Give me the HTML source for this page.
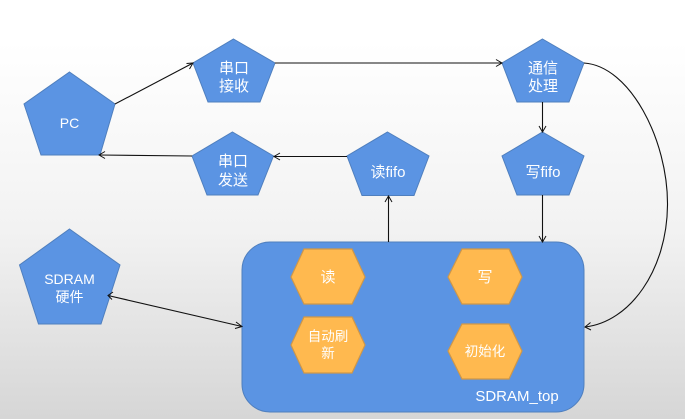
<!DOCTYPE html>
<html>
<head>
<meta charset="utf-8">
<style>
html,body{margin:0;padding:0;width:685px;height:419px;overflow:hidden;background:#fff}
svg{display:block}
text{font-family:"Liberation Sans","Noto Sans CJK SC",sans-serif;font-size:15px;fill:#fff;text-anchor:middle}
.s{font-size:13.5px}
.m{font-size:14px}
.p{fill:#5b94e3;stroke:#4f7fbe;stroke-width:1}
.h{fill:#ffb94f;stroke:#cf9748;stroke-width:1.2}
.l{fill:none;stroke:#111;stroke-width:1.1}
.a{fill:none;stroke:#111;stroke-width:1}
</style>
</head>
<body>
<svg width="685" height="419" viewBox="0 0 685 419" xmlns="http://www.w3.org/2000/svg">
<defs>
<linearGradient id="bg" x1="0" y1="0" x2="0" y2="1">
<stop offset="0" stop-color="#ffffff"/>
<stop offset="0.1" stop-color="#ffffff"/>
<stop offset="0.55" stop-color="#f2f2f2"/>
<stop offset="1" stop-color="#d6d6d6"/>
</linearGradient>
</defs>
<rect width="685" height="419" fill="url(#bg)"/>

<rect class="p" x="242" y="242" width="342" height="170" rx="28" ry="28"/>

<polygon class="p" points="69.5,72 115,104 100,155 41,155 24,104"/>
<polygon class="p" points="233.5,39 275,63 260,102 208,102 193,63"/>
<polygon class="p" points="232.5,132 273.5,156 258,195 207,195 192,156"/>
<polygon class="p" points="387.5,132 429,156 414,195.5 362,195.5 347,156"/>
<polygon class="p" points="542.5,39 584,63 569,102 517,102 502,63"/>
<polygon class="p" points="542.5,132 584,156 569,195 517,195 502,156"/>
<polygon class="p" points="69.5,229 120,265 101,324 38.5,324 19.5,265"/>

<polygon class="h" points="291,277 304,249 352,249 365,277 352,304 304,304"/>
<polygon class="h" points="291,345 304,317 352,317 365,345 352,373 304,373"/>
<polygon class="h" points="448,277 462,249 509,249 522,277 509,304 462,304"/>
<polygon class="h" points="448,351 462,324 509,324 522,351 509,379 462,379"/>

<line class="l" x1="115" y1="104" x2="193" y2="63"/>
<polyline class="a" points="186.5,63.5 193,63 189.5,69"/>
<line class="l" x1="275" y1="63" x2="502" y2="63"/>
<polyline class="a" points="496,59.5 502,63 496,66.5"/>
<line class="l" x1="192" y1="156" x2="99" y2="155"/>
<polyline class="a" points="105,151.5 99,155 105,158.5"/>
<line class="l" x1="347" y1="156.5" x2="274" y2="156.5"/>
<polyline class="a" points="280,153 274,156.5 280,160"/>
<line class="l" x1="542.5" y1="102" x2="542.5" y2="132"/>
<polyline class="a" points="539,126 542.5,132 546,126"/>
<line class="l" x1="542.5" y1="195" x2="542.5" y2="242"/>
<polyline class="a" points="539,236 542.5,242 546,236"/>
<line class="l" x1="388.5" y1="242" x2="388.5" y2="196"/>
<polyline class="a" points="385,202 388.5,196 392,202"/>
<line class="l" x1="108" y1="295.5" x2="242" y2="326.5"/>
<polyline class="a" points="113,292 108,295.5 112,299.5"/>
<polyline class="a" points="236,322 242,326.5 235,328.5"/>
<path class="l" d="M584,63 C630,66 668,140 667.5,205 C667,270 630,322 585,327"/>
<polyline class="a" points="590.5,322.5 585,327 591,330"/>

<text x="69.5" y="128" class="m">PC</text>
<text x="234" y="73">串口</text>
<text x="234" y="91">接收</text>
<text x="233" y="166">串口</text>
<text x="233" y="185">发送</text>
<text x="388" y="177">读fifo</text>
<text x="543" y="73">通信</text>
<text x="543" y="91">处理</text>
<text x="543" y="177">写fifo</text>
<text x="69.5" y="284" class="m">SDRAM</text>
<text x="69.5" y="302" class="m">硬件</text>
<text x="328" y="282">读</text>
<text x="328" y="341" class="s">自动刷</text>
<text x="328" y="358" class="s">新</text>
<text x="485" y="282">写</text>
<text x="485" y="356" class="s">初始化</text>
<text x="517" y="401">SDRAM_top</text>
</svg>
</body>
</html>
